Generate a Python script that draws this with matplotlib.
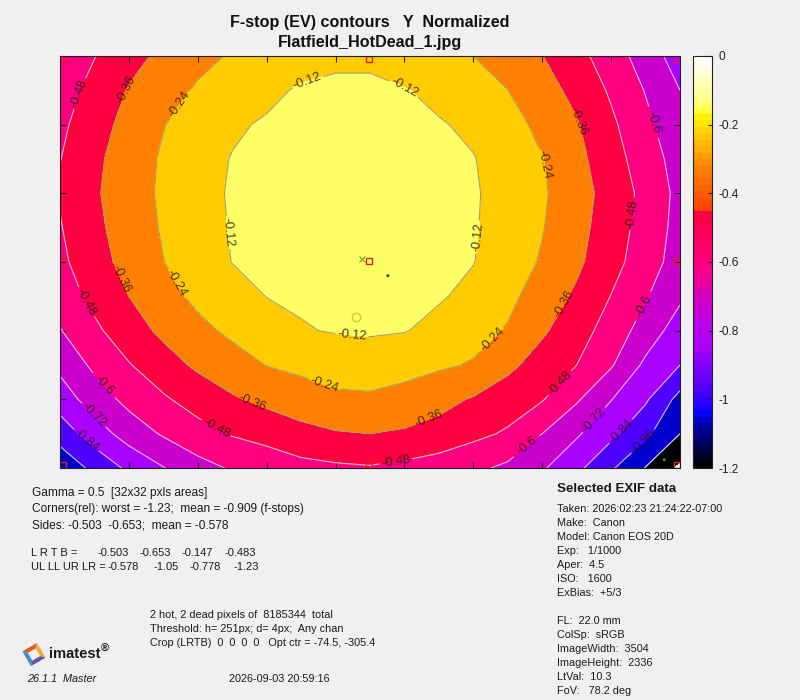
import numpy as np
import matplotlib
matplotlib.use('Agg')
import matplotlib.pyplot as plt
from matplotlib.cm import ScalarMappable
from matplotlib.colors import LinearSegmentedColormap, Normalize
from matplotlib.patches import Polygon

plt.rcParams['font.family'] = ['Liberation Sans', 'DejaVu Sans']

# grid is in tick units, half a tick apart (9 ticks across, 6 down)
grid_x = np.arange(19) / 2
grid_y = np.arange(13) / 2

# f-stops, one row per grid_y
row_00 = [-0.560, -0.484, -0.400, -0.334, -0.273, -0.229, -0.205, -0.175, -0.150, -0.150, -0.190, -0.215, -0.240, -0.298, -0.358, -0.443, -0.540, -0.656, -0.778]
row_05 = [-0.533, -0.442, -0.352, -0.285, -0.226, -0.187, -0.148, -0.105, -0.090, -0.090, -0.113, -0.153, -0.196, -0.239, -0.313, -0.394, -0.496, -0.606, -0.720]
row_10 = [-0.505, -0.409, -0.322, -0.244, -0.189, -0.136, -0.107, -0.088, -0.070, -0.068, -0.090, -0.110, -0.143, -0.200, -0.267, -0.350, -0.458, -0.570, -0.687]
row_15 = [-0.483, -0.385, -0.300, -0.226, -0.166, -0.115, -0.094, -0.070, -0.050, -0.045, -0.065, -0.090, -0.115, -0.173, -0.236, -0.327, -0.431, -0.540, -0.650]
row_20 = [-0.470, -0.375, -0.294, -0.221, -0.154, -0.110, -0.088, -0.064, -0.040, -0.035, -0.060, -0.085, -0.110, -0.157, -0.225, -0.309, -0.408, -0.514, -0.634]
row_25 = [-0.487, -0.388, -0.303, -0.229, -0.162, -0.113, -0.090, -0.065, -0.045, -0.040, -0.060, -0.085, -0.112, -0.161, -0.234, -0.321, -0.420, -0.527, -0.640]
row_30 = [-0.505, -0.409, -0.319, -0.242, -0.176, -0.118, -0.100, -0.080, -0.060, -0.050, -0.075, -0.100, -0.117, -0.179, -0.252, -0.338, -0.438, -0.543, -0.653]
row_35 = [-0.540, -0.448, -0.360, -0.280, -0.214, -0.166, -0.118, -0.107, -0.095, -0.085, -0.095, -0.110, -0.146, -0.212, -0.293, -0.380, -0.483, -0.590, -0.700]
row_40 = [-0.606, -0.503, -0.413, -0.336, -0.270, -0.217, -0.172, -0.127, -0.113, -0.105, -0.115, -0.151, -0.198, -0.250, -0.344, -0.430, -0.530, -0.652, -0.780]
row_45 = [-0.690, -0.575, -0.487, -0.410, -0.340, -0.289, -0.237, -0.215, -0.195, -0.190, -0.200, -0.222, -0.250, -0.334, -0.410, -0.480, -0.588, -0.745, -0.840]
row_50 = [-0.784, -0.662, -0.566, -0.495, -0.432, -0.374, -0.330, -0.290, -0.260, -0.255, -0.280, -0.325, -0.370, -0.420, -0.472, -0.585, -0.716, -0.824, -1.000]
row_55 = [-0.907, -0.780, -0.667, -0.587, -0.522, -0.471, -0.443, -0.400, -0.370, -0.360, -0.375, -0.400, -0.450, -0.495, -0.600, -0.705, -0.810, -0.933, -1.080]
row_60 = [-1.050, -0.928, -0.816, -0.725, -0.642, -0.588, -0.545, -0.515, -0.500, -0.490, -0.510, -0.540, -0.575, -0.624, -0.706, -0.811, -0.944, -1.085, -1.230]
fstops = np.array([row_00, row_05, row_10, row_15, row_20, row_25, row_30, row_35,
                   row_40, row_45, row_50, row_55, row_60])

levels = [-0.12, -0.24, -0.36, -0.48, -0.6, -0.72, -0.84, -0.96, -1.08]
fill_levels = [-1.5, -1.2, -1.08, -0.96, -0.84, -0.72, -0.6, -0.48, -0.36, -0.24, -0.12, 0]
fill_colors = ['#ffffff', '#000000', '#0000cc', '#5000ff', '#aa00ff', '#cc00cc',
               '#ff0080', '#ff0040', '#ff8000', '#ffcc00', '#ffff66']
line_colors = ['#a89a70', '#a89a70', '#a89a70', '#e8c0d0', '#e8c0e8', '#e0c0f0', '#d0c0ff', '#c0c0ff', '#e0e0ff']

cbar_stops = [(0.0, '#000000'), (0.115, '#0000cc'), (0.125, '#0000ff'), (0.17, '#4000ff'),
              (0.29, '#aa00ff'), (0.40, '#cc00cc'), (0.49, '#ff0080'), (0.62, '#ff0040'),
              (0.625, '#ff4000'), (0.73, '#ff8000'), (0.87, '#ffff00'), (0.875, '#ffff66'),
              (1.0, '#ffffff')]
cbar_ticks = [0, -0.2, -0.4, -0.6, -0.8, -1, -1.2]
cbar_labels = ['0', '-0.2', '-0.4', '-0.6', '-0.8', '-1', '-1.2']

# contour label spots, in pixels of the 800x700 picture
label_spots = [(308, 83), (405, 87), (216, 234), (486, 238), (351, 345),
               (177, 103), (544, 165), (172, 286), (322, 392), (494, 341),
               (127, 90), (576, 122), (118, 280), (249, 409), (430, 424), (568, 306),
               (81, 94), (634, 214), (83, 304), (214, 432), (396, 463), (560, 383),
               (655, 122), (102, 387), (529, 449), (647, 308),
               (92, 417), (603, 428), (84, 443), (624, 434), (643, 441)]

area_x = [0.04, 4.48, 8.96, 0.04, 8.96, 0.04, 4.48, 8.96, 4.48]
area_y = [0.04, 0.04, 0.04, 2.99, 2.99, 5.96, 5.96, 5.96, 2.99]
cross_xy = (4.38, 2.96)
dot_x = [4.76, 8.77]
dot_y = [3.20, 5.88]
dot_colors = ['#206020', '#30a030']
circle_xy = (4.30, 3.80)

title_1 = 'F-stop (EV) contours   Y  Normalized'
title_2 = 'Flatfield_HotDead_1.jpg'
stats_lines = ['Gamma = 0.5  [32x32 pxls areas]',
               'Corners(rel): worst = -1.23;  mean = -0.909 (f-stops)',
               'Sides: -0.503  -0.653;  mean = -0.578']
lrtb_head = 'L R T B ='
lrtb_vals = ['-0.503', '-0.653', '-0.147', '-0.483']
corner_head = 'UL LL UR LR ='
corner_vals = ['-0.578', '-1.05', '-0.778', '-1.23']
hot_lines = ['2 hot, 2 dead pixels of  8185344  total',
             'Threshold: h= 251px; d= 4px;  Any chan',
             'Crop (LRTB)  0  0  0  0   Opt ctr = -74.5, -305.4']
exif_head = 'Selected EXIF data'
exif_top = ['Taken: 2026:02:23 21:24:22-07:00', 'Make:  Canon', 'Model: Canon EOS 20D',
            'Exp:   1/1000', 'Aper:  4.5', 'ISO:   1600', 'ExBias:  +5/3']
exif_bottom = ['FL:  22.0 mm', 'ColSp:  sRGB', 'ImageWidth:  3504', 'ImageHeight:  2336',
               'LtVal:  10.3', 'FoV:   78.2 deg']

W, H = 800, 700
BG = '#f0f0f0'
fig = plt.figure(figsize=(W / 100, H / 100), dpi=100, facecolor=BG)


def px_axes(x0, y0, x1, y1):
    return fig.add_axes([x0 / W, 1 - y1 / H, (x1 - x0) / W, (y1 - y0) / H])


def put(px, py, s, size=8.6, **kw):
    fig.text(px / W, 1 - py / H, s, fontsize=size, va='center', color='#1a1a1a', **kw)


ax = px_axes(60, 56, 680, 468)
ax.contourf(grid_x, grid_y, fstops, levels=fill_levels, colors=fill_colors)
cs = ax.contour(grid_x, grid_y, fstops, levels=levels[::-1], colors=line_colors[::-1], linewidths=0.8)
ax.set_xlim(0, 9)
ax.set_ylim(6, 0)

spots = [((px - 60) / 620 * 9, (py - 56) / 412 * 6) for px, py in label_spots]
ax.clabel(cs, manual=spots, inline=True, fontsize=9.2, colors='#201a20', fmt='%.2f', inline_spacing=2)
for t in cs.labelTexts:
    t.set_text(t.get_text().replace('-0.60', '-0.6'))
    t.set_alpha(0.85)

ax.plot(area_x, area_y, 's', ms=5, mfc='none', mec='#e02020', mew=1, clip_on=True)
ax.plot(*cross_xy, 'x', ms=5, color='#60a020', mew=0.8)
ax.scatter(dot_x, dot_y, s=1.5, c=dot_colors, zorder=3)
ax.plot(*circle_xy, 'o', ms=6, mfc='none', mec='#cccc33', mew=1)

ax.set_xticks(np.arange(1, 9))
ax.set_yticks(np.arange(1, 6))
ax.tick_params(top=True, right=True, bottom=True, left=True, direction='in', length=4, width=0.8,
               labelbottom=False, labelleft=False, color='#222222')
for sp in ax.spines.values():
    sp.set_linewidth(0.8)
    sp.set_color('#202020')

cax = px_axes(693, 56, 712, 468)
cmap = LinearSegmentedColormap.from_list('fstop', cbar_stops, N=64)
cb = fig.colorbar(ScalarMappable(Normalize(-1.2, 0), cmap), cax=cax)
cb.set_ticks(cbar_ticks, labels=cbar_labels)
cb.ax.tick_params(direction='in', length=3, width=0.8, labelsize=8.6, pad=5, color='#222222', labelcolor='#222222')
cb.outline.set_linewidth(0.8)
cb.outline.set_edgecolor('#202020')

fig.text(370 / W, 1 - 22 / H, title_1, fontsize=11.6, fontweight='bold', ha='center', va='center', color='#111111')
fig.text(370 / W, 1 - 43 / H, title_2, fontsize=11.6, fontweight='bold', ha='center', va='center', color='#111111')

for i, s in enumerate(stats_lines):
    put(32, 493 + 16 * i, s, size=8.6)

put(31, 553, lrtb_head, size=8)
for px, s in zip([98, 140, 182, 224], lrtb_vals):
    put(px, 553, s, size=8)
put(31, 567, corner_head, size=8)
for px, s in zip([108, 153, 189, 234], corner_vals):
    put(px, 567, s, size=8)

for i, s in enumerate(hot_lines):
    put(150, 615 + 14 * i, s, size=7.8)

for i, s in enumerate(exif_top):
    put(557, 509 + 14 * i, s, size=7.85)
for i, s in enumerate(exif_bottom):
    put(557, 621 + 14 * i, s, size=7.85)
put(557, 489, exif_head, size=9.6, fontweight='bold')

put(27, 679, '26.1.1  Master', size=7.8, style='italic')
put(229, 679, '2026-09-03 20:59:16', size=7.8)

# logo: a tilted square ring in four colours
cx, cy = 34, 654.5
ang = np.deg2rad(-30)
rot = np.array([[np.cos(ang), -np.sin(ang)], [np.sin(ang), np.cos(ang)]])
outer = np.array([[-8.5, -8.5], [8.5, -8.5], [8.5, 8.5], [-8.5, 8.5]]) @ rot.T
inner = np.array([[-4.5, -4.5], [4.5, -4.5], [4.5, 4.5], [-4.5, 4.5]]) @ rot.T
for k, col in enumerate(['#e4572e', '#f2a93b', '#6a4fa3', '#3f8fd0']):
    j = (k + 1) % 4
    pts = np.array([outer[k], outer[j], inner[j], inner[k]]) + [cx, cy]
    pts = np.column_stack([pts[:, 0] / W, 1 - pts[:, 1] / H])
    fig.add_artist(Polygon(pts, closed=True, fc=col, ec='none', transform=fig.transFigure))
put(49, 654, 'imatest', size=10.6, fontweight='bold')
put(101, 649, '®', size=8, fontweight='bold')

fig.savefig('out.png', dpi=100, facecolor=BG)
